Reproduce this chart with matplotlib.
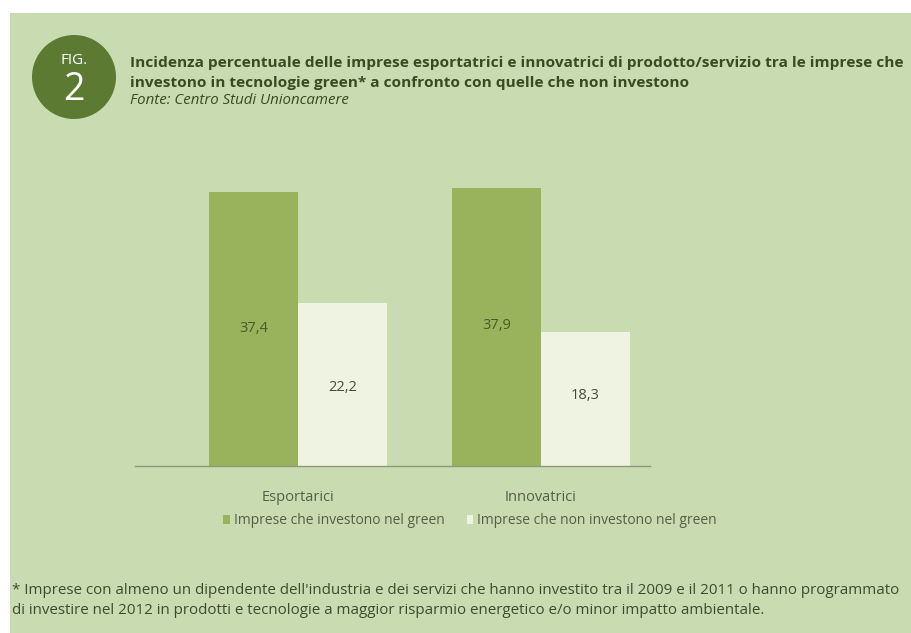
import matplotlib.pyplot as plt
from matplotlib.patches import Circle, Rectangle

# dati
categorie = ['Esportarici', 'Innovatrici']
green = [37.4, 37.9]
non_green = [22.2, 18.3]
etichette_green = ['37,4', '37,9']
etichette_non_green = ['22,2', '18,3']
serie = ['Imprese che investono nel green', 'Imprese che non investono nel green']

W, H = 912, 633
col_bg = '#c9dbb0'
col_bar = '#99b25c'
col_light = '#eef3e2'
col_dark = '#5d7a32'
col_text = '#3a4a22'

plt.rcParams['font.family'] = ['Open Sans', 'DejaVu Sans']

fig = plt.figure(figsize=(W / 100, H / 100), dpi=100)
fig.patch.set_facecolor('white')

# pannello verde di sfondo
fig.patches.append(Rectangle((10 / W, 0), 1, (H - 13) / H, transform=fig.transFigure,
                             facecolor=col_bg, edgecolor='none', zorder=-10))

# cerchio FIG. 2
fig.patches.append(Circle((74 / 100, (H - 77) / 100), 0.42, transform=fig.dpi_scale_trans,
                          facecolor=col_dark, edgecolor='none', zorder=-5))
fig.text(74 / W, 1 - 60 / H, 'FIG.', color='white', fontsize=11, ha='center', va='center')
fig.text(74 / W, 1 - 90 / H, '2', color='white', fontsize=27, ha='center', va='center')

# titolo
fig.text(130 / W, 1 - 63 / H,
         'Incidenza percentuale delle imprese esportatrici e innovatrici di prodotto/servizio tra le imprese che',
         fontsize=11.1, fontweight='bold', color=col_text, va='center')
fig.text(130 / W, 1 - 83 / H,
         "investono in tecnologie green* a confronto con quelle che non investono",
         fontsize=11.1, fontweight='bold', color=col_text, va='center')
fig.text(130 / W, 1 - 101 / H, 'Fonte: Centro Studi Unioncamere',
         fontsize=10.8, style='italic', color=col_text, va='center')

# grafico a barre
left, right = 135, 650
base, top = 466, 166
ax = fig.add_axes([left / W, (H - base) / H, (right - left) / W, (base - top) / H])
ax.set_facecolor('none')
ax.set_xlim(-0.671, 1.449)
ax.set_ylim(0, 40.9)
w = 0.366
x = [0, 1]
ax.bar([i - w / 2 for i in x], green, width=w, color=col_bar, zorder=2, label=serie[0])
ax.bar([i + w / 2 for i in x], non_green, width=w, color=col_light, zorder=2, label=serie[1])
ypos_green = [18.7, 19.2]
ypos_non = [10.7, 9.6]
for i in x:
    ax.text(i - w / 2, ypos_green[i], etichette_green[i], ha='center', va='center',
            fontsize=10.5, color='#4a5a2a')
    ax.text(i + w / 2, ypos_non[i], etichette_non_green[i], ha='center', va='center',
            fontsize=10.5, color='#4a4a3a')

for s in ['top', 'right', 'left']:
    ax.spines[s].set_visible(False)
ax.spines['bottom'].set_color('#8a9a78')
ax.spines['bottom'].set_linewidth(1)
ax.set_yticks([])
ax.set_xticks(x)
ax.set_xticklabels(categorie, fontsize=10.5, color='#555f48')
ax.tick_params(axis='x', length=0, pad=17)

leg = fig.legend(loc='center', bbox_to_anchor=(470 / W, 1 - 521 / H), ncol=2, frameon=False,
                 fontsize=10, handlelength=0.45, handleheight=0.6, handletextpad=0.3,
                 columnspacing=1.6, labelcolor='#555f48')

# nota
fig.text(12 / W, 1 - 590 / H,
         "* Imprese con almeno un dipendente dell'industria e dei servizi che hanno investito tra il 2009 e il 2011 o hanno programmato",
         fontsize=10.9, color='#3f4a33', va='center')
fig.text(12 / W, 1 - 610 / H,
         "di investire nel 2012 in prodotti e tecnologie a maggior risparmio energetico e/o minor impatto ambientale.",
         fontsize=10.9, color='#3f4a33', va='center')

fig.savefig('out.png', dpi=100, facecolor=fig.get_facecolor())
